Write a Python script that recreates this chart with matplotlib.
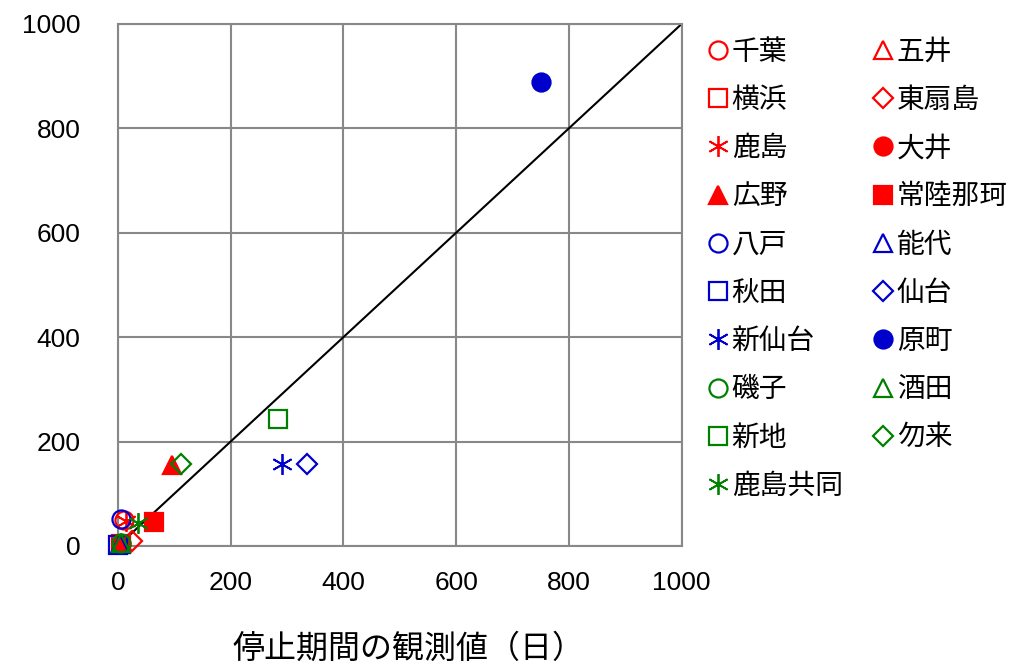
import matplotlib
matplotlib.use("Agg")
import matplotlib.pyplot as plt

plt.rcParams['font.family'] = ['Liberation Sans', 'Noto Sans CJK JP', 'DejaVu Sans']

# 地点ごとの観測値 (x) と計算値 (y)、凡例の行順
names = ['千葉', '五井', '横浜', '東扇島', '鹿島', '大井', '広野', '常陸那珂',
         '八戸', '能代', '秋田', '仙台', '新仙台', '原町',
         '磯子', '酒田', '新地', '勿来', '鹿島共同']
obs = [10, 5, 5, 25, 15, 5, 96, 64,
       6, 3, 0, 335, 291, 750,
       5, 5, 284, 112, 35]
calc = [50, 5, 3, 10, 48, 4, 155, 46,
        52, 3, 2, 157, 157, 889,
        5, 5, 243, 157, 44]
colors = ['#ff0000'] * 8 + ['#0000cc'] * 6 + ['#008000'] * 5
markers = ['o', '^', 's', 'D', (6, 2, 0), 'o', '^', 's',
           'o', '^', 's', 'D', (6, 2, 0), 'o',
           'o', '^', 's', 'D', (6, 2, 0)]
filled = [False, False, False, False, False, True, True, True,
          False, False, False, False, False, True,
          False, False, False, False, False]

fig = plt.figure(figsize=(10.25, 6.65), dpi=100)
ax = fig.add_axes([0.115, 0.179, 0.55, 0.785])

handles = []
for n, x, y, c, m, f in zip(names, obs, calc, colors, markers, filled):
    size = {'D': 10, 'o': 13, '^': 13, 's': 13}.get(m, 15) if isinstance(m, str) else 15
    h, = ax.plot([x], [y], linestyle='none', marker=m, markersize=size,
                 markeredgecolor=c, markerfacecolor=c if f else 'none',
                 markeredgewidth=1.6 if isinstance(m, str) else 1.3,
                 label=n, clip_on=False, zorder=3)
    handles.append(h)

ax.plot([0, 1000], [0, 1000], color='black', lw=1.5, zorder=2)

ax.set_xlim(0, 1000)
ax.set_ylim(0, 1000)
ax.set_xticks(range(0, 1001, 200))
ax.set_yticks(range(0, 1001, 200))
ax.grid(True, color='#888888', lw=1.5)
ax.set_axisbelow(True)
for s in ax.spines.values():
    s.set_color('#888888')
    s.set_linewidth(1.5)
ax.tick_params(length=0, labelsize=19)
ax.tick_params(axis='x', pad=18)
ax.tick_params(axis='y', pad=27)
ax.set_xlabel('停止期間の観測値（日）', fontsize=23)
ax.xaxis.set_label_coords(0.515, -0.168)

# 凡例は2列、行方向に並べる
order = list(range(0, 19, 2)) + list(range(1, 19, 2))
fig.legend([handles[i] for i in order], [names[i] for i in order],
           loc='upper left', bbox_to_anchor=(0.68, 0.957), ncol=2,
           frameon=False, fontsize=20, handlelength=0.7, handletextpad=0.15,
           columnspacing=1.1, labelspacing=0.8, borderaxespad=0)

fig.savefig('out.png', dpi=100)
